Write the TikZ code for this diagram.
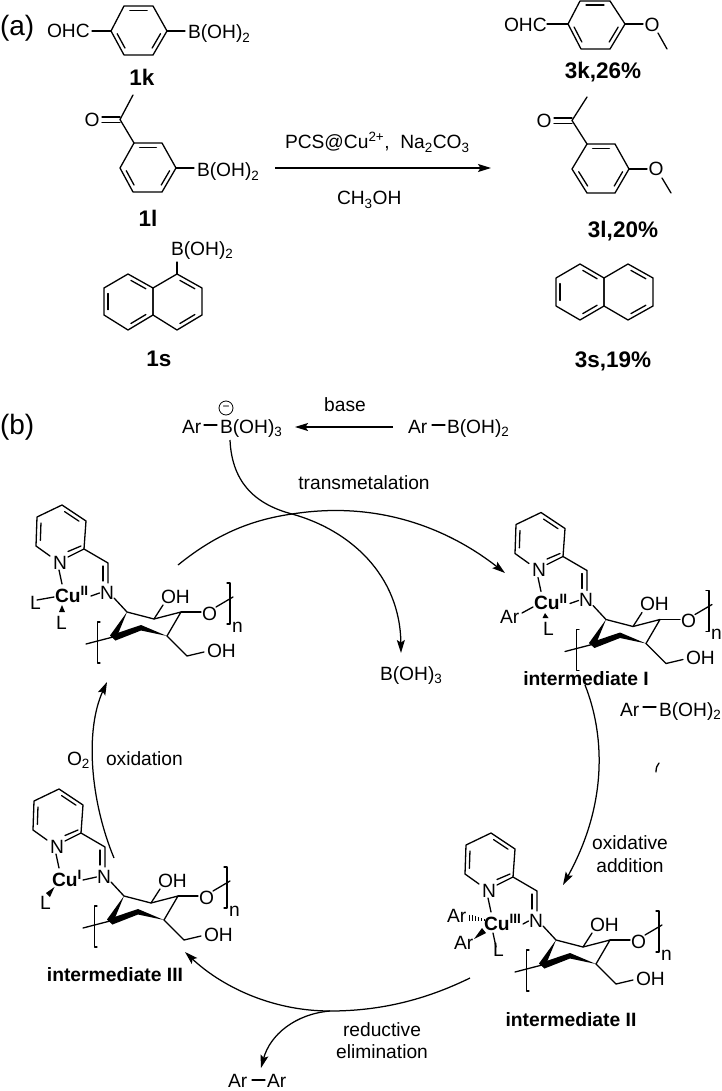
\documentclass[tikz,border=0pt]{standalone}
\usepackage{fontspec}
\setmainfont{Liberation Sans}
\usetikzlibrary{arrows.meta,calc}
\tikzset{
  bond/.style={line width=1.3pt,line cap=round,line join=round},
  txt/.style={font=\fontsize{19.2}{22}\selectfont,inner sep=0pt,outer sep=0pt,anchor=base west},
  ctxt/.style={txt,anchor=base},
  boldlab/.style={font=\fontsize{19.3}{22}\selectfont\bfseries,inner sep=0pt,outer sep=0pt,anchor=base},
  cpd/.style={font=\fontsize{22.5}{26}\selectfont\bfseries,inner sep=0pt,outer sep=0pt,anchor=base},
  panel/.style={font=\fontsize{28}{32}\selectfont,inner sep=0pt,outer sep=0pt,anchor=base west},
  cyc/.style={line width=1.25pt,-{Stealth[length=13pt,width=8pt,inset=2.5pt]}},
  plain/.style={line width=1.25pt},
  wedgefill/.style={fill=black,draw=none}
}
% ring outline, named vertices #1a..#1f, centre #1o
\newcommand{\hexring}[7]{%
  \coordinate (#1a) at #2; \coordinate (#1b) at #3; \coordinate (#1c) at #4;
  \coordinate (#1d) at #5; \coordinate (#1e) at #6; \coordinate (#1f) at #7;
  \coordinate (#1o) at ($(#1a)!.5!(#1d)$);
  \draw[bond] (#1a)--(#1b)--(#1c)--(#1d)--(#1e)--(#1f)--cycle;}
\newcommand{\innerb}[3]{\draw[bond] ($(#1)!.14!(#2)!.17!(#3)$) -- ($(#2)!.14!(#1)!.17!(#3)$);}
\newcommand{\benz}[7]{\hexring{#1}{#2}{#3}{#4}{#5}{#6}{#7}%
  \innerb{#1a}{#1b}{#1o}\innerb{#1c}{#1d}{#1o}\innerb{#1e}{#1f}{#1o}}
% complex: name, dx, dy, oxidation state, x of start of Cu-N bond
\newcommand{\cplx}[5]{%
\begin{scope}[shift={(#2,#3)}]
  \coordinate (#1p1) at (36,546); \coordinate (#1p2) at (37,517); \coordinate (#1p3) at (62,505);
  \coordinate (#1p4) at (86,521); \coordinate (#1p5) at (84,549);
  \coordinate (#1pn) at (60,562); \coordinate (#1o) at (61,533);
  \coordinate (#1im) at (108,563);
  \coordinate (#1c1) at (127,612); \coordinate (#1c2) at (154,619); \coordinate (#1c3) at (181,612);
  \coordinate (#1c4) at (167,636); \coordinate (#1c6) at (113,637); \coordinate (#1ch) at (187,656);
  \node[txt] (#1Npy) at (53,569) {N};
  \node[txt] (#1Nim) at (100,599) {N};
  \node[txt,font=\fontsize{19.2}{22}\selectfont\bfseries] (#1Cu) at (55,602) {Cu\raisebox{6.5pt}{\fontsize{13.5}{14}\selectfont #4}};
  \node[txt] (#1OHa) at (161,603) {OH};
  \node[txt] (#1O) at (202,620) {O};
  \node[txt] (#1OHb) at (207,657) {OH};
  \node[txt] (#1n) at (232,632) {n};
  \draw[bond] (50,556)--(#1p1)--(#1p2)--(#1p3)--(#1p4)--(#1p5)--(68,557);
  \draw[bond] (68,551.5)--(81,546);
  \innerb{#1p1}{#1p2}{#1o}\innerb{#1p3}{#1p4}{#1o}
  \draw[bond] (#1p5)--(#1im)--(108,583);
  \draw[bond] (103,566)--(103,581);
  \draw[bond] (59,570)--(62,584);
  \draw[bond] (#5,596)--(99.5,593);
  \draw[bond] (114,598)--(#1c1)--(#1c2)--(#1c3)--(#1c4);
  \draw[bond] (#1c2)--(163,605);
  \draw[bond] (#1c3)--(201,612);
  \draw[bond] (216,607)--(233,597);
  \draw[bond] (#1c6)--(86,644);
  \draw[bond] (#1c4)--(#1ch)--(204,652);
  \draw[bond] (100,622)--(97.5,622)--(97.5,663)--(100,663);
  \draw[bond] (227,583)--(230,583)--(230,624)--(227,624);
  \fill[wedgefill] (#1c1)--(115.5,640)--(110,635.5)--cycle;
  \fill[wedgefill] (110,635.5)--(141,625)--(#1c4)--(141,630.5)--(115.5,640.5)--cycle;
\end{scope}}
\begin{document}
\begin{tikzpicture}[x=1pt,y=-1pt]
\useasboundingbox (0,0) rectangle (721,1091);
% --------- panel a
\node[panel] (pa) at (0,36) {(a)};
\benz{k}{(124,6)}{(153,6)}{(167,31)}{(153,55)}{(124,55)}{(111,31)}
\node[txt] (kOHC) at (47,38) {OHC};
\node[txt] (kB) at (188,39) {B(OH)\textsubscript{2}};
\coordinate (kl) at (92,31); \coordinate (kr) at (185,31);
\draw[bond] (kl)--(kf); \draw[bond] (kc)--(kr);
\node[cpd] (lab1k) at (142,86) {1k};

\benz{l}{(134,143)}{(162,143)}{(176,168)}{(162,192)}{(133,192)}{(120,168)}
\coordinate (lC) at (120,119.5); \coordinate (lMe) at (133,95); \coordinate (lr) at (194,168);
\node[ctxt] (lO) at (92,127) {O};
\node[txt] (lB) at (197,177) {B(OH)\textsubscript{2}};
\draw[bond] (lMe)--(lC)--(la); \draw[bond] (lc)--(lr) ;
\draw[bond] (102,117)--(120,117); \draw[bond] (102,122.5)--(120,122.5);
\node[cpd] (lab1l) at (148,226) {1l};

\hexring{sa}{(128,274)}{(153,288)}{(153,315)}{(128,330)}{(104,315)}{(104,288)}
\innerb{saa}{sab}{sao}\innerb{sac}{sad}{sao}\innerb{sae}{saf}{sao}
\hexring{sb}{(177,274)}{(202,288)}{(202,315)}{(177,330)}{(153,315)}{(153,288)}
\innerb{sba}{sbb}{sbo}\innerb{sbc}{sbd}{sbo}
\node[txt] (sB) at (171,255) {B(OH)\textsubscript{2}};
\coordinate (st) at (177,262);
\draw[bond] (st)--(sba);
\node[cpd] (lab1s) at (159,366) {1s};

\coordinate (rxa) at (275,168); \coordinate (rxb) at (491,168);
\draw[plain,-{Stealth[length=13pt,width=8pt,inset=2.5pt]}] (rxa)--(rxb);
\node[txt] (cond1) at (285,149) {PCS@Cu\textsuperscript{2+},\ \ Na\textsubscript{2}CO\textsubscript{3}};
\node[txt] (cond2) at (337,205) {CH\textsubscript{3}OH};

\benz{p}{(580,1)}{(610,1)}{(625,24)}{(610,49)}{(581,49)}{(568,24)}
\node[txt] (pOHC) at (504,32) {OHC};
\node[ctxt] (pO) at (652,32) {O};
\coordinate (pl) at (547,24); \coordinate (pr) at (643,24); \coordinate (pm1) at (658,33); \coordinate (pm2) at (667,49);
\draw[bond] (pl)--(pf); \draw[bond] (pc)--(pr); \draw[bond] (pm1)--(pm2);
\node[cpd] (lab3k) at (603,79) {3k,26\%};

\benz{q}{(587,144)}{(615,144)}{(629,169)}{(615,193)}{(587,193)}{(572,169)}
\coordinate (qC) at (572,120.5); \coordinate (qMe) at (587,97); \coordinate (qr) at (647,169);
\coordinate (qm1) at (662,178); \coordinate (qm2) at (671,193);
\node[ctxt] (qOa) at (544,128) {O};
\node[ctxt] (qOb) at (656,176) {O};
\draw[bond] (qMe)--(qC)--(qa); \draw[bond] (qc)--(qr); \draw[bond] (qm1)--(qm2);
\draw[bond] (554,118)--(572,118); \draw[bond] (554,123.5)--(572,123.5);
\node[cpd] (lab3l) at (623,237) {3l,20\%};

\hexring{ta}{(580,264)}{(604,278)}{(604,306)}{(580,320)}{(556,306)}{(556,278)}
\innerb{taa}{tab}{tao}\innerb{tac}{tad}{tao}\innerb{tae}{taf}{tao}
\hexring{tb}{(628,264)}{(653,278)}{(653,306)}{(628,320)}{(604,306)}{(604,278)}
\innerb{tba}{tbb}{tbo}\innerb{tbc}{tbd}{tbo}
\node[cpd] (lab3s) at (613,367) {3s,19\%};

% --------- panel b
\node[panel] (pb) at (0,434) {(b)};
\node[txt] (ar1) at (182,433) {Ar};
\node[txt] (bo3) at (220,433) {B(OH)\textsubscript{3}};
\node[draw,circle,line width=.8pt,minimum size=14pt,inner sep=0pt,font=\fontsize{12}{12}\selectfont] (minus) at (226,408) {−};
\coordinate (b1a) at (204,425); \coordinate (b1b) at (217,425);
\draw[bond] (b1a)--(b1b);
\node[txt] (ar2) at (408,433) {Ar};
\node[txt] (bo2) at (447,433) {B(OH)\textsubscript{2}};
\coordinate (b2a) at (432,425); \coordinate (b2b) at (445,425);
\draw[bond] (b2a)--(b2b);
\coordinate (basea) at (393,427); \coordinate (baseb) at (295,427);
\draw[cyc] (basea)--(baseb);
\node[ctxt] (baselab) at (345,411) {base};
\node[ctxt] (tm) at (364,489) {transmetalation};
\node[txt] (bo3b) at (380,680) {B(OH)\textsubscript{3}};

\coordinate (x) at (292,514);
\coordinate (s1) at (230,440); \coordinate (e1) at (401,653);
\coordinate (s2) at (178,565); \coordinate (e2) at (505,573);
\draw[cyc] (s1) .. controls (232,485) and (258,505) .. (x) .. controls (350,530) and (400,575) .. (e1);
\draw[cyc] (s2) .. controls (215,535) and (250,520) .. (x) .. controls (380,500) and (450,530) .. (e2);

% complex IV (top left)
\cplx{A}{0}{0}{II}{91}
\node[txt] (AL1) at (30,609) {L};
\node[txt] (AL2) at (56,629) {L};
\draw[bond] (37,600)--(54,597);
\fill[wedgefill] (62,605)--(59,612)--(65,612)--cycle;

% complex I
\cplx{B}{479}{7.5}{II}{91}
\node[txt] (BAr) at (500,623) {Ar};
\node[txt] (BL) at (543,635) {L};
\draw[bond] (522,613)--(533,607);
\fill[wedgefill] (545,613)--(542.5,618)--(548.5,618)--cycle;
\node[boldlab] (labI) at (586,685) {intermediate I};

% complex II
\cplx{C}{429}{328}{III}{94}
\node[txt] (CAr1) at (447,922) {Ar};
\node[txt] (CAr2) at (454,949) {Ar};
\node[txt] (CL) at (493,956) {L};
\draw[bond] (493,933)--(496,947);
\fill[wedgefill] (474,939)--(482,928)--(486,933)--cycle;
\foreach \t/\h in {469/3,472/2.6,475/2.2,478/1.8,481/1.4,484/1}
  \draw[line width=.8pt] (\t,917.5-\h+.17*\t-79.7) -- (\t,917.5+\h+.17*\t-79.7);
\node[boldlab] (labII) at (571,1026) {intermediate II};

% complex III
\cplx{D}{-3}{284}{I}{86}
\node[txt] (DL) at (40,909) {L};
\fill[wedgefill] (54.5,887)--(46,893)--(50,897)--cycle;
\node[boldlab] (labIII) at (115,981) {intermediate III};

% cycle arcs
\coordinate (s3) at (585,685); \coordinate (e3) at (563,885);
\draw[cyc] (s3) .. controls (603,730) and (610,800) .. (e3);
\node[txt] (ar3) at (620,716) {Ar};
\node[txt] (bo2b) at (659,716) {B(OH)\textsubscript{2}};
\coordinate (b3a) at (643,707); \coordinate (b3b) at (656,707);
\draw[bond] (b3a)--(b3b);
\coordinate (st1) at (659,763); \coordinate (st2) at (656,772);
\draw[bond] (st1) .. controls (657,765) and (656,768) .. (st2);
\node[ctxt] (oa1) at (630,849) {oxidative};
\node[ctxt] (oa2) at (630,872) {addition};

\coordinate (s4) at (470,978); \coordinate (m4) at (330,1011); \coordinate (e4) at (185,952); \coordinate (e5) at (261,1068);
\draw[cyc] (s4) .. controls (425,1000) and (380,1011) .. (m4) .. controls (270,1011) and (220,985) .. (e4);
\draw[cyc] (m4) .. controls (295,1014) and (270,1035) .. (e5);
\node[ctxt] (re1) at (382,1036) {reductive};
\node[ctxt] (re2) at (382,1058) {elimination};
\node[txt] (ar4) at (228,1087) {Ar};
\node[txt] (ar5) at (267,1087) {Ar};
\coordinate (b4a) at (252,1080); \coordinate (b4b) at (265,1080);
\draw[bond] (b4a)--(b4b);

\coordinate (s6) at (114,858); \coordinate (e6) at (107,682);
\draw[cyc] (s6) .. controls (90,800) and (85,730) .. (e6);
\node[txt] (o2) at (67,765) {O\textsubscript{2}};
\node[txt] (oxi) at (106,765) {oxidation};
\end{tikzpicture}
\end{document}
